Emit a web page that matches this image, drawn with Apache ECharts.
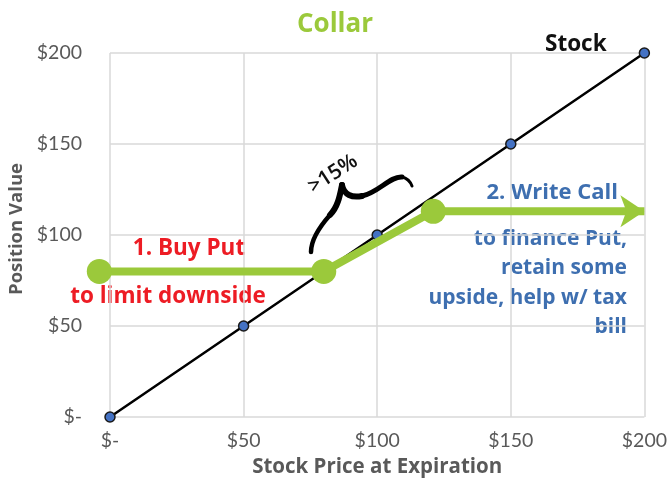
<!DOCTYPE html>
<html>
<head>
<meta charset="utf-8">
<script src="https://cdn.jsdelivr.net/npm/echarts@6/dist/echarts.min.js"></script>
<style>
  html, body { margin: 0; padding: 0; background: #fff; }
  #chart { width: 670px; height: 483px; }
</style>
</head>
<body>
<div id="chart"></div>
<script>
// stock payoff (straight line)
const stockX = [0, 50, 100, 150, 200];
const stockY = [0, 50, 100, 150, 200];
// collar payoff: floor from put, cap from call
const collarX = [-4, 80, 121, 200];
const collarY = [80, 80, 113, 113];
const axisTicks = [0, 50, 100, 150, 200];

const GREEN = '#9bc93b';
const RED = '#ed1c24';
const BLUE = '#3e6fb0';
const GRAY = '#595959';
const FONT = '"Open Sans", "Noto Sans", sans-serif';
const TICKFONT = 'Lato, "Open Sans", sans-serif';

const money = v => (v === 0 ? '$-' : '$' + v);

const chart = echarts.init(document.getElementById('chart'));

const stockData = stockX.map((x, i) => [x, stockY[i]]);
const collarData = collarX.map((x, i) => {
  const last = i === collarX.length - 1;
  return last
    ? { value: [x, collarY[i]], symbol: 'arrow', symbolSize: [24, 24], symbolRotate: -90 }
    : { value: [x, collarY[i]] };
});

// hand drawn brace next to the ">15%" note
const brace = (pts, w) => ({
  type: 'bezierCurve',
  shape: { x1: pts[0], y1: pts[1], cpx1: pts[2], cpy1: pts[3], cpx2: pts[4], cpy2: pts[5], x2: pts[6], y2: pts[7] },
  style: { stroke: '#000', lineWidth: w, fill: null, lineCap: 'round' },
  z: 10
});

chart.setOption({
  animation: false,
  title: {
    text: 'Collar',
    left: 'center',
    top: 7,
    textStyle: { color: GREEN, fontSize: 26, fontWeight: 'bold', fontFamily: FONT }
  },
  grid: { left: 110, right: 22, top: 53, bottom: 64 },
  xAxis: {
    type: 'value',
    min: axisTicks[0],
    max: axisTicks[axisTicks.length - 1],
    interval: 50,
    name: 'Stock Price at Expiration',
    nameLocation: 'middle',
    nameGap: 40,
    nameTextStyle: { color: GRAY, fontSize: 20.5, fontWeight: 'bold', fontFamily: FONT },
    axisLine: { show: false },
    axisTick: { show: false },
    axisLabel: { formatter: money, color: GRAY, fontSize: 19.5, margin: 14, fontFamily: TICKFONT },
    splitLine: { show: true, lineStyle: { color: '#d9d9d9', width: 1.5 } }
  },
  yAxis: {
    type: 'value',
    min: axisTicks[0],
    max: axisTicks[axisTicks.length - 1],
    interval: 50,
    axisLine: { show: false },
    axisTick: { show: false },
    axisLabel: { formatter: money, color: GRAY, fontSize: 19.5, margin: 28, fontFamily: TICKFONT },
    splitLine: { show: true, lineStyle: { color: '#d9d9d9', width: 1.5 } }
  },
  series: [
    {
      name: 'Stock',
      type: 'line',
      data: stockData,
      symbol: 'circle',
      symbolSize: 10,
      lineStyle: { color: '#000', width: 2.5 },
      itemStyle: { color: '#4472c4', borderColor: '#1a1a1a', borderWidth: 1.5 },
      z: 2
    },
    {
      name: 'Collar',
      type: 'line',
      data: collarData,
      clip: false,
      symbol: 'circle',
      symbolSize: 25,
      lineStyle: { color: GREEN, width: 8 },
      itemStyle: { color: GREEN, borderWidth: 0 },
      z: 3
    }
  ],
  graphic: [
    { type: 'text', x: 17, y: 229, rotation: Math.PI / 2,
      style: { text: 'Position Value', fill: GRAY, font: 'bold 18.5px ' + FONT, align: 'center', verticalAlign: 'middle' } },
    { type: 'text', left: 545, top: 33,
      style: { text: 'Stock', fill: '#111', font: 'bold 22.5px ' + FONT } },
    { type: 'text', x: 189, y: 249,
      style: { text: '1. Buy Put', fill: RED, font: 'bold 22.5px ' + FONT, align: 'center', verticalAlign: 'middle' } },
    { type: 'text', x: 168, y: 297,
      style: { text: 'to limit downside', fill: RED, font: 'bold 22.5px ' + FONT, align: 'center', verticalAlign: 'middle' } },
    { type: 'text', x: 618, y: 193,
      style: { text: '2. Write Call', fill: BLUE, font: 'bold 22px ' + FONT, align: 'right', verticalAlign: 'middle' } },
    { type: 'text', x: 627, y: 224,
      style: { text: 'to finance Put,\nretain some\nupside, help w/ tax\nbill', fill: BLUE,
               font: 'bold 21px ' + FONT, align: 'right', verticalAlign: 'top', lineHeight: 29.5 } },
    { type: 'text', x: 333, y: 174, rotation: 33 * Math.PI / 180,
      style: { text: '>15%', fill: '#111', font: '600 21px ' + FONT, align: 'center', verticalAlign: 'middle' } },
    brace([311, 252, 311, 238, 322, 224, 330, 215], 4.5),
    brace([330, 215, 338, 207, 340, 195, 342, 185], 6),
    brace([342, 185, 344, 195, 352, 198, 362, 196], 6),
    brace([362, 196, 378, 193, 390, 176, 402, 177], 5),
    brace([402, 177, 407, 178, 410, 181, 412, 186], 3)
  ]
});
</script>
</body>
</html>
